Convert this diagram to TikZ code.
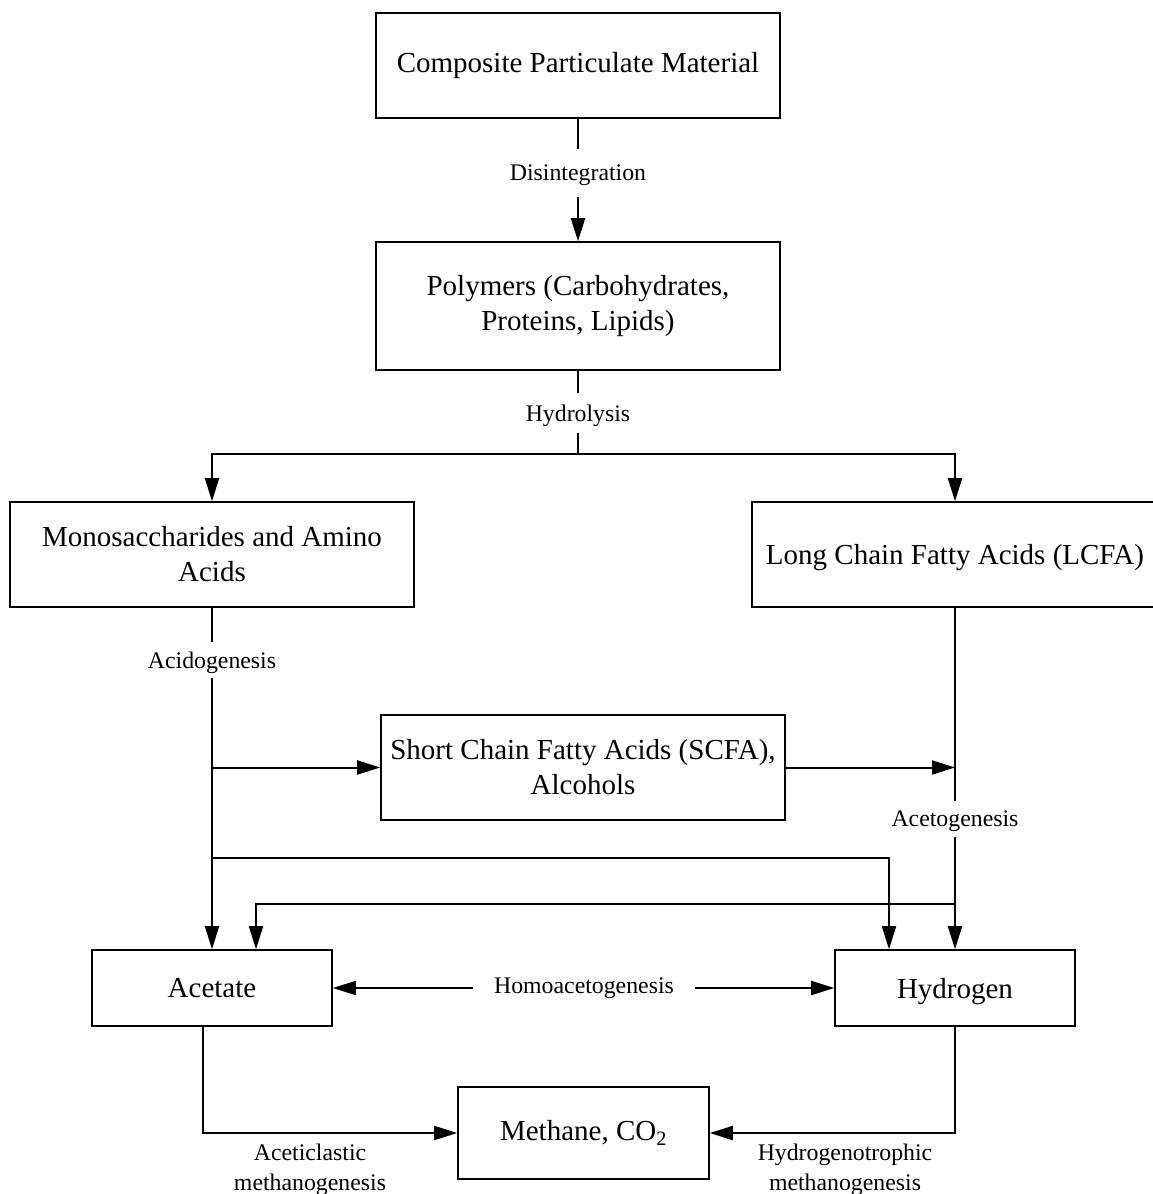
\documentclass[tikz,border=0pt]{standalone}
\usepackage{fontspec}
\setmainfont{Liberation Serif}
\usetikzlibrary{arrows.meta}
\begin{document}
\begin{tikzpicture}[x=1pt,y=-1pt,
  box/.style={draw, line width=1.6pt, inner sep=0pt, align=center, font=\fontsize{29}{35}\selectfont},
  lbl/.style={inner sep=0pt, align=center, font=\fontsize{23.8}{30}\selectfont},
  conn/.style={line width=2pt},
  arr/.style={conn, -{Triangle[length=23pt,width=14pt]}}]
\fill[white] (0,0) rectangle (1152,1194);
\useasboundingbox (0,0) rectangle (1152,1194);

% boxes
\node[box, minimum width=404, minimum height=105] (b1) at (578,65.5) {Composite Particulate Material};
\node[box, minimum width=404, minimum height=128] (b2) at (578,306) {Polymers (Carbohydrates,\\Proteins, Lipids)};
\node[box, minimum width=404, minimum height=105] (mono) at (212,554.5) {Monosaccharides and Amino\\Acids};
\node[box, minimum width=406, minimum height=105, text depth=0pt] (lcfa) at (955,554.5) {Long Chain Fatty Acids (LCFA)};
\node[box, minimum width=404, minimum height=105] (scfa) at (583,767.5) {Short Chain Fatty Acids (SCFA),\\Alcohols};
\node[box, minimum width=240, minimum height=76] (acet) at (212,988) {Acetate};
\node[box, minimum width=240, minimum height=76, text depth=0pt] (hyd) at (955,988) {Hydrogen};
\node[box, minimum width=251, minimum height=92] (meth) at (583.5,1133) {Methane, CO\textsubscript{2}};

% labels
\node[lbl, minimum height=47, text depth=0pt] (dis) at (578,173) {Disintegration};
\node[lbl, minimum height=39, text depth=0pt] (hydl) at (578,413) {Hydrolysis};
\node[lbl, minimum height=36, text depth=0pt] (acid) at (212,660) {Acidogenesis};
\node[lbl, minimum height=36, text depth=0pt] (aceto) at (955,819) {Acetogenesis};
\node[lbl, inner xsep=21pt] (homo) at (584,988) {Homoacetogenesis};
\node[lbl] (acl) at (310,1170) {Aceticlastic\\methanogenesis};
\node[lbl] (hyl) at (845,1170) {Hydrogenotrophic\\methanogenesis};

% junction coordinates
\coordinate (hj) at (578,454);
\coordinate (ab) at (212,767.5);
\coordinate (lb) at (955,767.5);
\coordinate (t1) at (212,858);
\coordinate (t1e) at (889,858);
\coordinate (t2) at (955,904);
\coordinate (t2e) at (256,904);
\coordinate (ab2) at (203,1133);

% connectors
\draw[conn] (b1.south) -- (dis.north);
\draw[arr] (dis.south) -- (b2.north);
\draw[conn] (b2.south) -- (hydl.north);
\draw[conn] (hydl.south) -- (hj);
\draw[arr] (hj) -| (mono.north);
\draw[arr] (hj) -| (lcfa.north);
\draw[conn] (mono.south) -- (acid.north);
\draw[arr] (acid.south) -- (acet.north);
\draw[arr] (ab) -- (scfa.west);
\draw[arr] (scfa.east) -- (lb);
\draw[conn] (lcfa.south) -- (aceto.north);
\draw[arr] (aceto.south) -- (hyd.north);
\draw[arr] (t1) -- (t1e) -- (t1e |- hyd.north);
\draw[arr] (t2) -- (t2e) -- (t2e |- acet.north);
\draw[arr] (homo.west) -- (acet.east);
\draw[arr] (homo.east) -- (hyd.west);
\draw[arr] (acet.south -| ab2) -- (ab2) -- (meth.west);
\draw[arr] (hyd.south) |- (meth.east);
\end{tikzpicture}
\end{document}
